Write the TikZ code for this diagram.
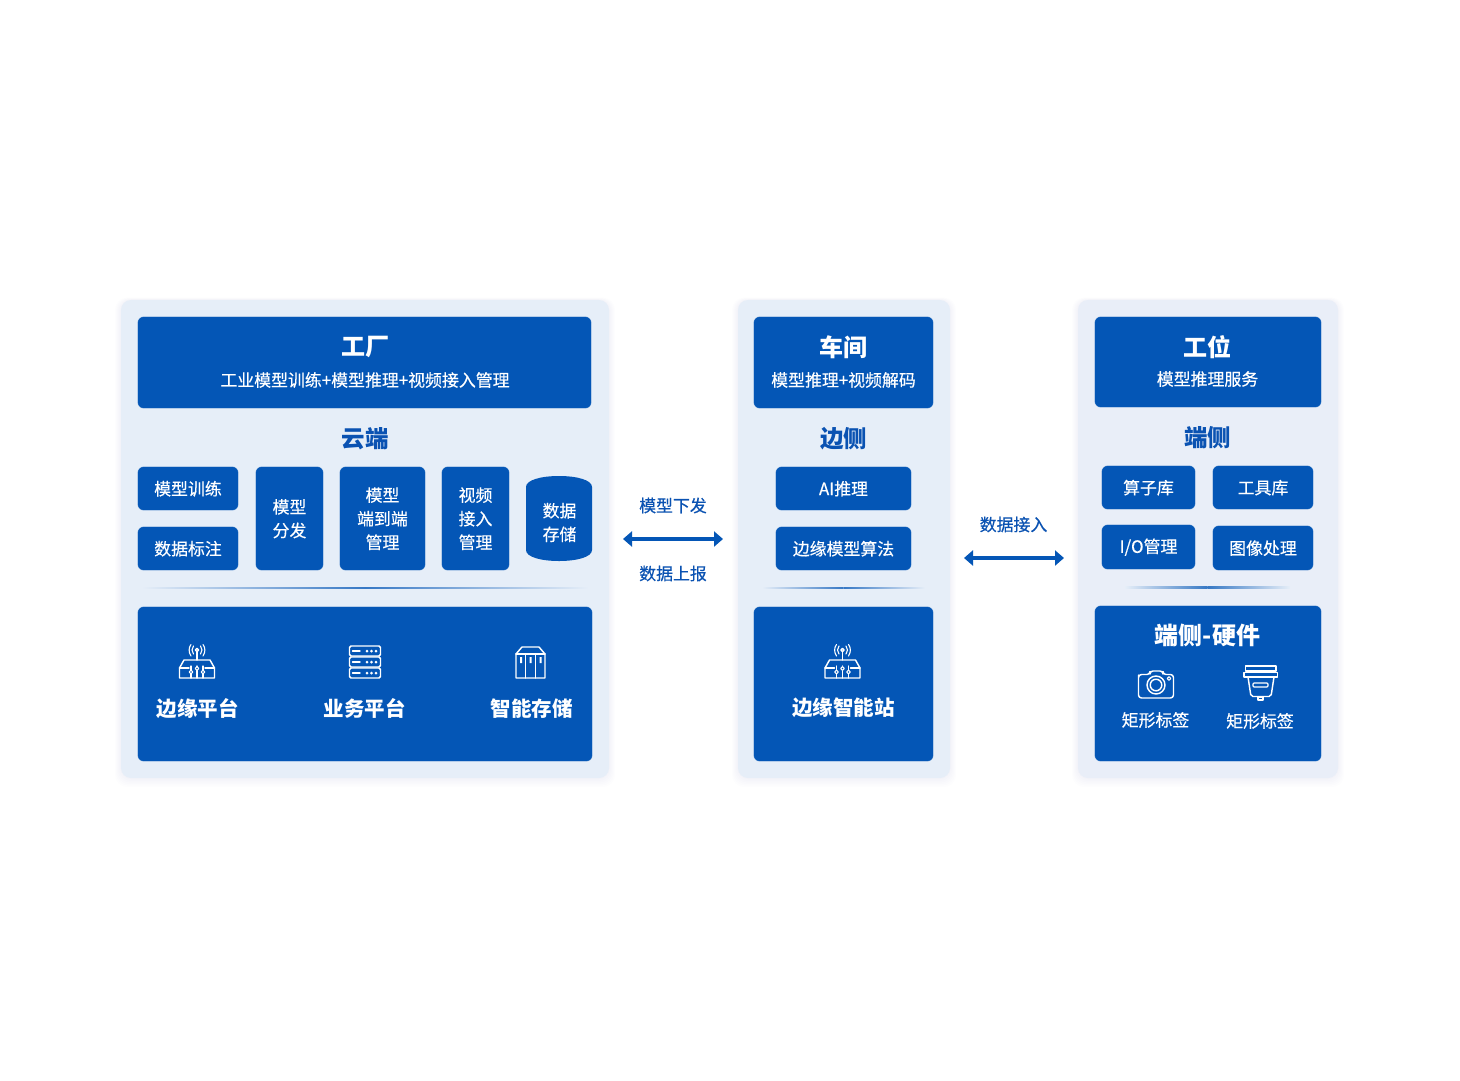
\documentclass[tikz,border=0pt]{standalone}
\usepackage{fontspec}
\setmainfont{Noto Sans CJK SC}
\newfontfamily\medfont[FakeBold=0.35]{Noto Sans CJK SC}
\usetikzlibrary{arrows.meta}
\definecolor{brand}{HTML}{0456B6}
\definecolor{panelbg}{HTML}{E6EEF8}
\definecolor{panelbgb}{HTML}{E9EEF8}
\definecolor{inktext}{HTML}{0A52B2}
\tikzset{
  bluebox/.style={fill=brand,draw=white,draw opacity=.45,line width=.5pt,rounded corners=6pt,inner sep=0pt},
  boxtext/.style={text=white,align=center,inner sep=0pt,font=\fontsize{16.9}{23.6}\selectfont\medfont},
  panelbox/.style={fill=#1,rounded corners=10pt},
  titletext/.style={text=white,inner sep=0pt,font=\fontsize{24}{28}\selectfont\bfseries},
  subtext/.style={text=white,inner sep=0pt,font=\fontsize{16.9}{22}\selectfont\medfont},
  headtext/.style={text=inktext,inner sep=0pt,font=\fontsize{23.5}{28}\selectfont\bfseries},
  bigtext/.style={text=white,inner sep=0pt,font=\fontsize{20.5}{26}\selectfont\bfseries},
  flowtext/.style={text=inktext,inner sep=0pt,font=\fontsize{16.9}{22}\selectfont\medfont},
  flowarrow/.style={{Triangle[length=9pt,width=15pt]}-{Triangle[length=9pt,width=15pt]},draw=brand,line width=3.8pt},
  iconline/.style={draw=white,line width=1.45pt,line join=round,line cap=round,fill=none},
  icondot/.style={fill=white,draw=none},
}
% name, x1, y1, x2, y2, text
\newcommand{\bxnode}[6]{%
  \pgfmathsetmacro{\bw}{#4-#2+.8}\pgfmathsetmacro{\bh}{#5-#3+.8}%
  \pgfmathsetmacro{\cx}{(#2+#4)/2}\pgfmathsetmacro{\cy}{(#3+#5)/2}%
  \pgfmathsetmacro{\cyt}{\cy+.2}%
  \node[bluebox,minimum width=\bw pt,minimum height=\bh pt] (#1) at (\cx,\cy) {};
  \node[boxtext] (#1text) at (\cx,\cyt) {#6};}
% x1,y1,x2,y2,colour
\newcommand{\panelshape}[5]{%
  \foreach \k in {1,...,6}{%
    \fill[brand,opacity=.007,rounded corners=12pt] (#1-\k*1,#2-\k*.4) rectangle (#3+\k*1,#4+\k*1.5);}
  \fill[panelbox=#5] (#1,#2) rectangle (#3,#4);}
% x1,x2,y
\newcommand{\sepline}[3]{%
  \pgfmathsetmacro{\sm}{(#1+#2)/2}%
  \shade[left color=panelbg,right color=brand!80,draw=none] (#1,#3-.7) rectangle (\sm,#3+.7);
  \shade[left color=brand!80,right color=panelbg,draw=none] (\sm,#3-.7) rectangle (#2,#3+.7);}
\newcommand{\routericon}[2]{%
  \begin{scope}[shift={(#1,#2)}]
    \draw[iconline] (179.5,668) -- (184,660) -- (210,660) -- (214.5,668) -- (214.5,678) -- (179.5,678) -- cycle;
    \draw[iconline] (179.5,668) -- (189,668) (205,668) -- (214.5,668);
    \draw[iconline] (197,652) -- (197,660);
    \draw[iconline] (197,650) circle (1.7);
    \draw[iconline,line width=1.1pt] (200.5,654) .. controls (202.5,651.5) and (202.5,648.5) .. (200.5,646);
    \draw[iconline,line width=1.1pt] (193.5,654) .. controls (191.5,651.5) and (191.5,648.5) .. (193.5,646);
    \draw[iconline,line width=1.1pt] (203,656) .. controls (205.5,652) and (205.5,648) .. (203,644.5);
    \draw[iconline,line width=1.1pt] (191,656) .. controls (188.5,652) and (188.5,648) .. (191,644.5);
    \draw[iconline,line width=1.1pt] (191,666) -- (191,678) (197,666) -- (197,678) (203,666) -- (203,678);
    \draw[iconline,line width=1.1pt,fill=brand] (191,672) circle (1.8) (197,668.5) circle (1.8) (203,672) circle (1.8);
  \end{scope}}
\begin{document}
\begin{tikzpicture}[x=1pt,y=-1pt]
\useasboundingbox (0,0) rectangle (1460,1080);
\fill[white] (0,0) rectangle (1460,1080);
% panels
\panelshape{121}{300}{609}{778}{panelbg}
\panelshape{738}{300}{950}{778}{panelbg}
\panelshape{1078}{300}{1338}{778}{panelbgb}
% header boxes
\bxnode{factoryhead}{138}{317}{591}{408}{}
\bxnode{workshophead}{754}{317}{933}{408}{}
\bxnode{stationhead}{1095}{317}{1321}{407}{}
\node[titletext] (factorytitle) at (365,347) {工厂};
\node[subtext] (factorysub) at (365,380) {工业模型训练+模型推理+视频接入管理};
\node[titletext] (workshoptitle) at (843.5,347) {车间};
\node[subtext] (workshopsub) at (843.5,380) {模型推理+视频解码};
\node[titletext] (stationtitle) at (1207.5,347) {工位};
\node[subtext] (stationsub) at (1207.5,379) {模型推理服务};
% section heads
\node[headtext] (cloud) at (365,439) {云端};
\node[headtext] (edge) at (843.5,439) {边侧};
\node[headtext] (device) at (1207.5,438) {端侧};
% cloud boxes
\bxnode{train}{138}{467}{238}{510}{模型训练}
\bxnode{label}{138}{527}{238}{570}{数据标注}
\bxnode{dist}{256}{467}{323}{570}{模型\\分发}
\bxnode{e2e}{340}{467}{425}{570}{模型\\端到端\\管理}
\bxnode{video}{442}{467}{509}{570}{视频\\接入\\管理}
\fill[brand] (526,487) .. controls (526,480) and (541,476) .. (559,476)
  .. controls (577,476) and (592,480) .. (592,487) -- (592,550)
  .. controls (592,557) and (577,561) .. (559,561)
  .. controls (541,561) and (526,557) .. (526,550) -- cycle;
\node[boxtext] (store) at (559.5,522.5) {数据\\存储};
% edge boxes
\bxnode{infer}{776}{467}{911}{510}{AI推理}
\bxnode{edgealgo}{776}{527}{911}{570}{边缘模型算法}
% device boxes
\bxnode{ops}{1102}{466}{1195}{509}{算子库}
\bxnode{tools}{1213}{466}{1313}{509}{工具库}
\bxnode{iomgr}{1102}{525}{1195}{569}{I/O管理}
\bxnode{imgproc}{1213}{526}{1313}{570}{图像处理}
% separators
\sepline{142}{588}{588}
\sepline{762}{925}{588}
\sepline{1125}{1290}{587.5}
% bottom boxes
\bxnode{cloudbottom}{138}{607}{592}{761}{}
\bxnode{edgebottom}{754}{607}{933}{761}{}
\bxnode{devicebottom}{1095}{606}{1321}{761}{}
\routericon{0}{0}
\routericon{645.5}{0}
% server icon
\foreach \yy in {646,657,668}{
  \draw[iconline,rounded corners=1.5pt] (349.5,\yy) rectangle (380.5,\yy+10);
  \draw[iconline] (352.5,\yy+5) -- (360,\yy+5);
  \fill[icondot] (367,\yy+5) circle (1.5) (371.5,\yy+5) circle (1.5) (376,\yy+5) circle (1.5);
}
% storage icon
\draw[iconline] (516,654) -- (522,647) -- (539,647) -- (545,654) -- (545,678) -- (516,678) -- cycle;
\draw[iconline] (516,654) -- (545,654) (525.5,654) -- (525.5,678) (535.5,654) -- (535.5,678);
\fill[icondot] (520,657) rectangle (522,663) (529.5,657) rectangle (531.5,663) (539.5,657) rectangle (541.5,663);
% camera icon
\draw[iconline,rounded corners=3pt] (1138.5,678) -- (1138.5,698) -- (1173.5,698) -- (1173.5,674.5) -- (1163,674.5) -- (1163,671) -- (1150,671) -- (1150,674.5) -- (1138.5,674.5) -- cycle;
\draw[iconline] (1156,685) circle (9) (1156,685) circle (5.8);
\draw[iconline,line width=1.1pt] (1169,678.5) circle (1.8);
% lamp icon
\draw[iconline] (1245.5,666) rectangle (1276,671);
\draw[iconline] (1244,672.5) rectangle (1277.5,677);
\draw[iconline,rounded corners=2pt] (1248,677) -- (1251,696.5) -- (1271,696.5) -- (1274,677);
\draw[iconline,rounded corners=1pt,line width=1.1pt] (1253,683) rectangle (1268,687);
\draw[iconline,line width=1.1pt] (1258,697) rectangle (1263,700);
% bottom text
\node[bigtext] (edgeplat) at (197.5,708.5) {边缘平台};
\node[bigtext] (bizplat) at (364.5,708.5) {业务平台};
\node[bigtext] (smartstore) at (531.5,708.5) {智能存储};
\node[bigtext] (edgestation) at (843.5,707.5) {边缘智能站};
\node[titletext] (hwtitle) at (1207.5,635.5) {端侧-硬件};
\node[subtext] (tagone) at (1155.5,720) {矩形标签};
\node[subtext] (tagtwo) at (1260,721) {矩形标签};
% connectors
\coordinate (flowaleft) at (623,539);
\coordinate (flowaright) at (723,539);
\coordinate (flowbleft) at (964,558);
\coordinate (flowbright) at (1064,558);
\draw[flowarrow] (flowaleft) -- (flowaright);
\draw[flowarrow] (flowbleft) -- (flowbright);
\node[flowtext] (down) at (673,505.5) {模型下发};
\node[flowtext] (up) at (673,573.5) {数据上报};
\node[flowtext] (ingest) at (1013.5,524.5) {数据接入};
\end{tikzpicture}
\end{document}
